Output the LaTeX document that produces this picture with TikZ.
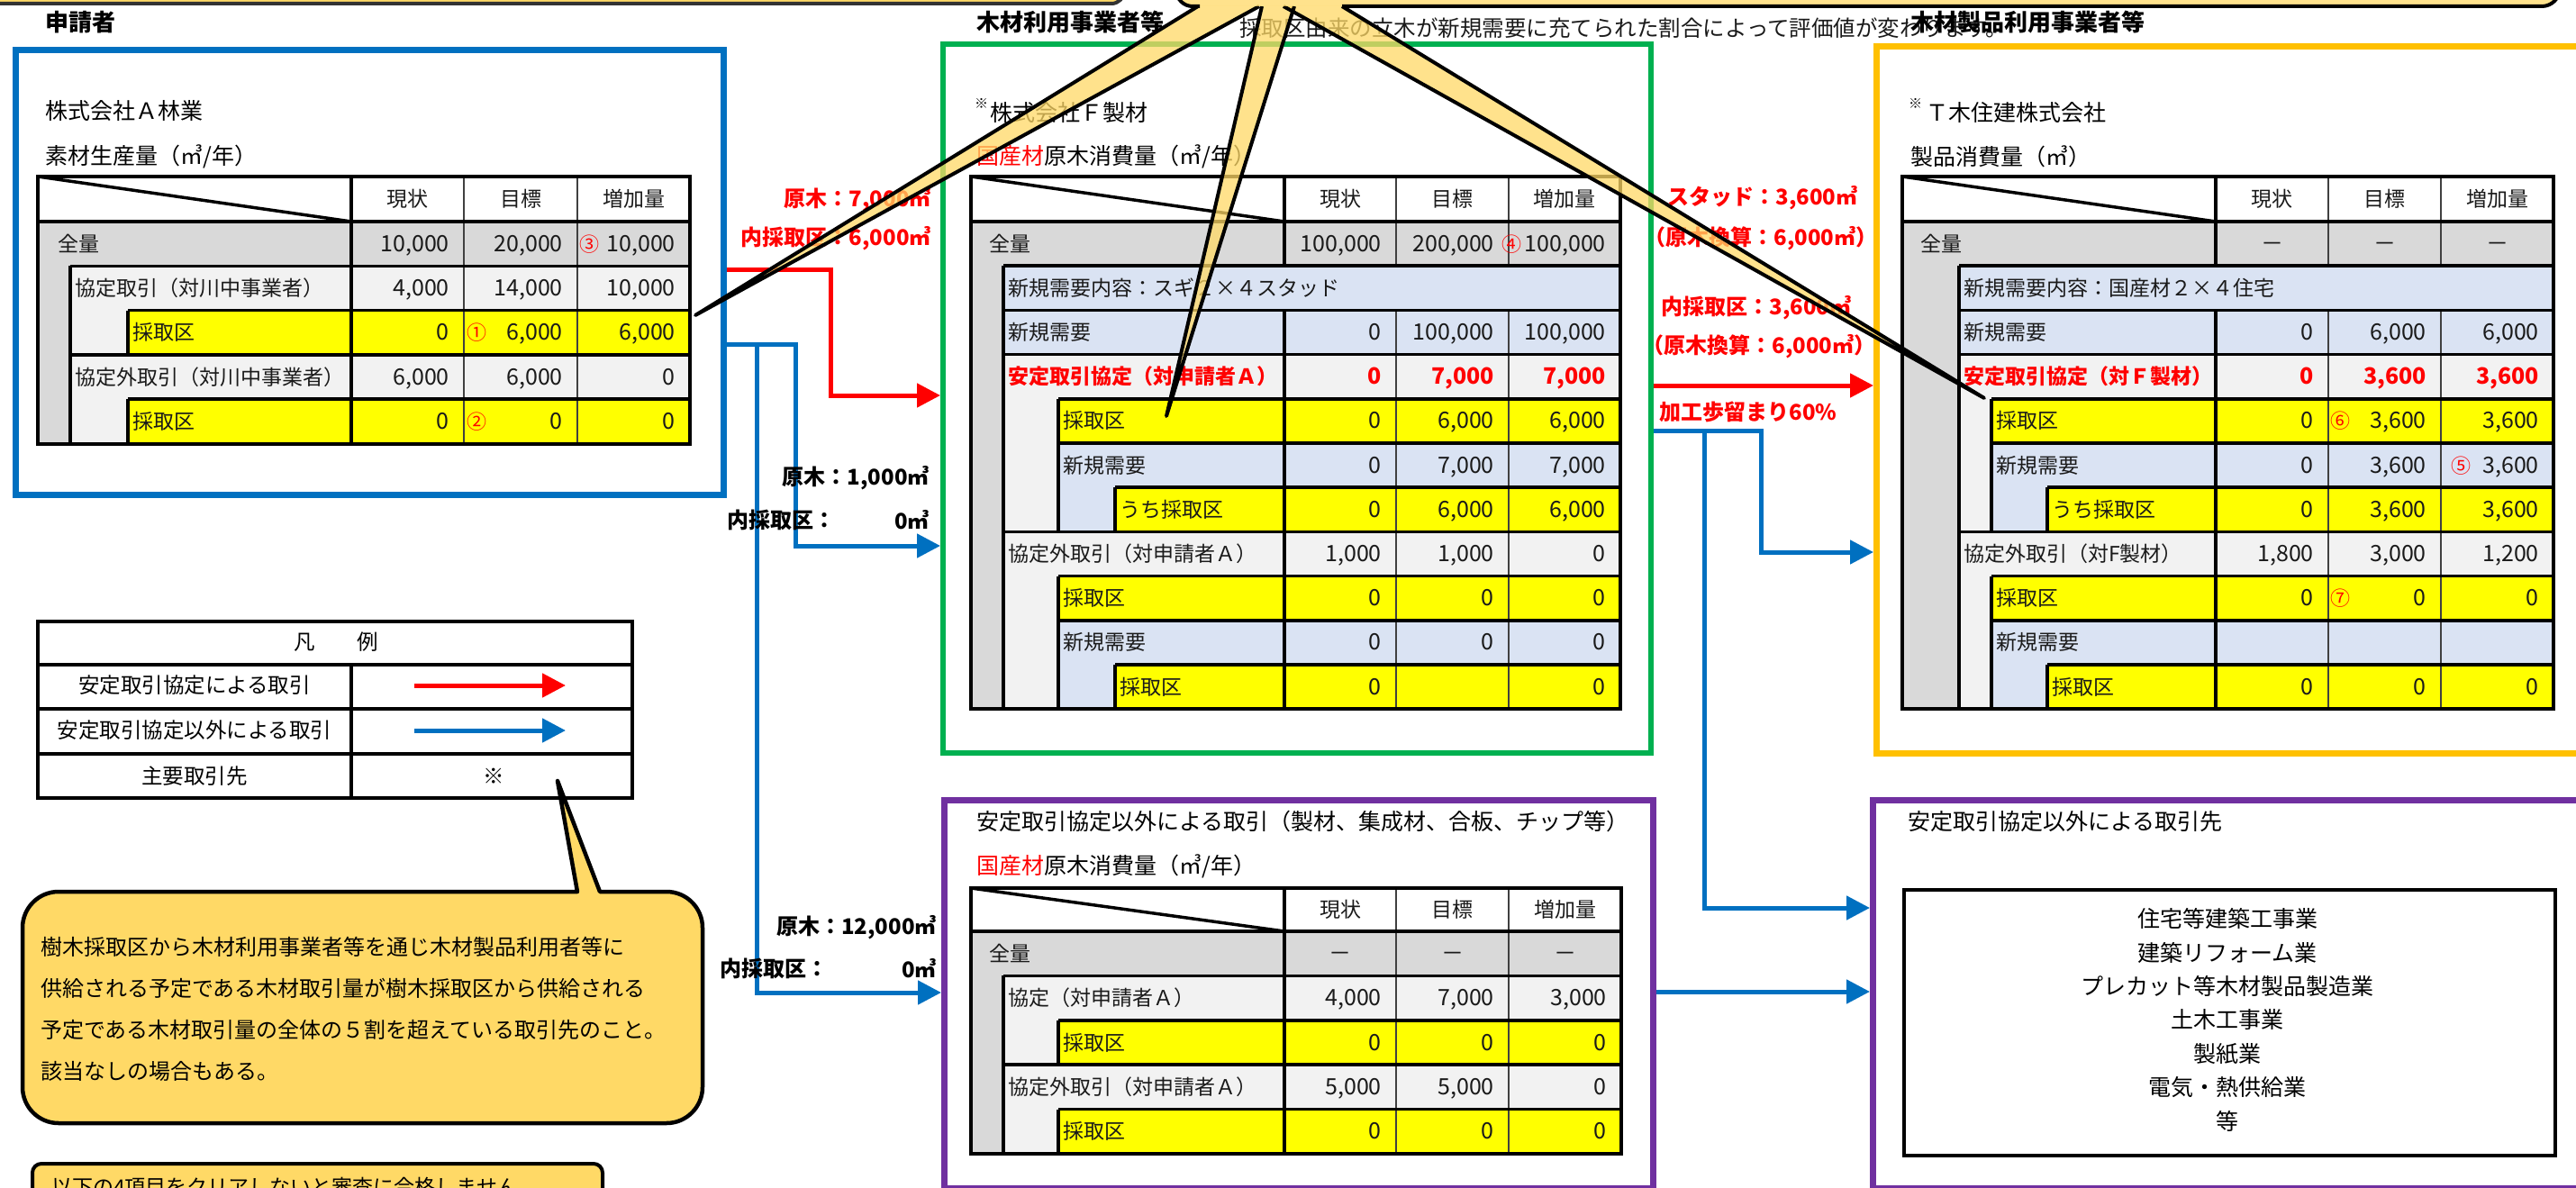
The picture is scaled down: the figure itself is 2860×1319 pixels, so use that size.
\documentclass[tikz,border=0pt]{standalone}
\usepackage{fontspec}
\setmainfont{Noto Sans CJK JP}
\usetikzlibrary{arrows.meta}
\definecolor{cblue}{HTML}{0070C0}
\definecolor{cred}{HTML}{FF0000}
\definecolor{cgreen}{HTML}{00B050}
\definecolor{corange}{HTML}{FFC000}
\definecolor{cpurple}{HTML}{7030A0}
\definecolor{cgray}{HTML}{D9D9D9}
\definecolor{clg}{HTML}{F2F2F2}
\definecolor{clb}{HTML}{DAE3F3}
\definecolor{yel}{HTML}{FFFF00}
\definecolor{ccall}{HTML}{FFD966}
\definecolor{txt}{HTML}{1A1A1A}
\newcommand\fsz[1]{\fontsize{#1}{#1}\selectfont}
\newcount\cellno
\newcommand\nextcell{\global\advance\cellno by 1\relax}
\newcommand\tabset[5]{\def\tL{#1}\def\tA{#2}\def\tB{#3}\def\tC{#4}\def\tR{#5}}
\newcommand\thead[2]{%
  \nextcell
  \fill[white] (\tL,#1) rectangle (\tR,#2);
  \draw[tthick] (\tL,#1) -- (\tA,#2);
  \draw[tthick] (\tA,#1) -- (\tA,#2);
  \draw[tthin] (\tB,#1) -- (\tB,#2) (\tC,#1) -- (\tC,#2);
  \node[tlab] (h\the\cellno a) at ({(\tA+\tB)/2},{(#1+#2)/2}) {現状};
  \node[tlab] (h\the\cellno b) at ({(\tB+\tC)/2},{(#1+#2)/2}) {目標};
  \node[tlab] (h\the\cellno c) at ({(\tC+\tR)/2},{(#1+#2)/2}) {増加量};
}
\newcommand\tgrp[4]{\fill[#4] (#3,#1) rectangle (\tR,#2); \draw[tthick] (#3,#1) -- (#3,#2);}
\newcommand\trow[9]{%
  \nextcell
  \fill[#4] (#3,#1) rectangle (\tR,#2);
  \draw[tthin] (\tB,#1) -- (\tB,#2) (\tC,#1) -- (\tC,#2);
  \draw[tthick] (#3,#1) -- (\tR,#1) (#3,#1) -- (#3,#2) (\tA,#1) -- (\tA,#2);
  \node[tlab,anchor=west,#9] (r\the\cellno l) at ({#3+5},{(#1+#2)/2}) {#5};
  \node[tnum,anchor=east,#9] (r\the\cellno a) at ({\tB-16},{(#1+#2)/2}) {#6};
  \node[tnum,anchor=east,#9] (r\the\cellno b) at ({\tC-16},{(#1+#2)/2}) {#7};
  \node[tnum,anchor=east,#9] (r\the\cellno c) at ({\tR-16},{(#1+#2)/2}) {#8};
}
\newcommand\tmrow[5]{%
  \nextcell
  \fill[#4] (#3,#1) rectangle (\tR,#2);
  \draw[tthick] (#3,#1) -- (\tR,#1) (#3,#1) -- (#3,#2);
  \node[tlab,anchor=west] (m\the\cellno) at ({#3+5},{(#1+#2)/2}) {#5};
}
\newcommand\tdash[2]{%
  \nextcell
  \node[tnum] (d\the\cellno a) at ({(\tA+\tB)/2},{(#1+#2)/2}) {－};
  \node[tnum] (d\the\cellno b) at ({(\tB+\tC)/2},{(#1+#2)/2}) {－};
  \node[tnum] (d\the\cellno c) at ({(\tC+\tR)/2},{(#1+#2)/2}) {－};
}
\newcommand\tframe[2]{\draw[tbord] (\tL,#1) rectangle (\tR,#2);}
\newcommand\cnum[3]{\nextcell\node[cnumst] (c\the\cellno) at (#1,#2) {#3};}
\tikzset{
  tthick/.style={line width=3.5pt, black},
  tthin/.style={line width=1.3pt, black!75},
  tbord/.style={line width=4pt, black},
  tlab/.style={font=\fsz{23}, text=txt, inner sep=0pt, text height=20pt, text depth=3pt},
  tnum/.style={font=\fsz{25}, text=txt, inner sep=0pt, text height=20pt, text depth=3pt},
  tred/.style={text=cred, execute at begin node=\bfseries},
  cnumst/.style={font=\fsz{22}, text=cred, inner sep=0pt, anchor=west, text height=20pt, text depth=3pt},
  ttl/.style={font=\fsz{25}, text=black, inner sep=0pt, anchor=west},
  hdr/.style={font=\bfseries\fsz{26}, text=black, inner sep=0pt, anchor=west},
  lbl/.style={font=\bfseries\fsz{24}, inner sep=0pt},
  box/.style={anchor=north west, inner sep=0pt, line width=7pt},
  redl/.style={cred, line width=5pt, -{Triangle[length=26pt,width=26pt]}},
  bluel/.style={cblue, line width=5pt, -{Triangle[length=26pt,width=26pt]}},
  wedge/.style={fill=ccall, fill opacity=0.75},
  wline/.style={line width=4pt, line join=round, black},
  legt/.style={font=\fsz{23.5}, inner sep=0pt},
  callt/.style={font=\fsz{24}, inner sep=0pt, anchor=west},
  listt/.style={font=\fsz{25}, inner sep=0pt},
}
\begin{document}
\begin{tikzpicture}[x=1pt,y=-1pt]
\useasboundingbox (0,0) rectangle (2860,1319);
\clip (0,0) rectangle (2860,1319);
\fill[white] (0,0) rectangle (2860,1319);

% ---- section headers
\node[hdr] (hA) at (50,25) {申請者};
\node[hdr] (hF) at (1084,25) {木材利用事業者等};
\node[font=\fsz{24.5}, inner sep=0pt, anchor=west, text=txt] (note) at (1376,31) {採取区由来の立木が新規需要に充てられた割合によって評価値が変わります。};
\node[hdr] (hT) at (2121,25) {木材製品利用事業者等};

% ---- boxes
\node[box, draw=cblue, minimum width=786pt, minimum height=494pt] (boxA) at (14,52) {};
\node[box, draw=cgreen, line width=6pt, minimum width=786pt, minimum height=787pt] (boxF) at (1044,46) {};
\node[box, draw=corange, minimum width=800pt, minimum height=785pt] (boxT) at (2080,48) {};
\node[box, draw=cpurple, minimum width=787pt, minimum height=431pt] (boxP) at (1045,885) {};
\node[box, draw=cpurple, minimum width=800pt, minimum height=431pt] (boxQ) at (2076,885) {};

% ---- box titles
\node[ttl] (tA1) at (50,123) {株式会社Ａ林業};
\node[ttl] (tA2) at (50,174) {素材生産量（㎥/年）};
\node[font=\fsz{15}, inner sep=0pt, anchor=west] (tF0) at (1082,115) {※};
\node[ttl] (tF1) at (1099,125) {株式会社Ｆ製材};
\node[ttl] (tF2) at (1084,174) {\textcolor{cred}{国産材}原木消費量（㎥/年）};
\node[font=\fsz{15}, inner sep=0pt, anchor=west] (tT0) at (2119,115) {※};
\node[ttl] (tT1) at (2138,125) {Ｔ木住建株式会社};
\node[ttl] (tT2) at (2121,174) {製品消費量（㎥）};
\node[ttl] (tP1) at (1084,912) {安定取引協定以外による取引（製材、集成材、合板、チップ等）};
\node[ttl] (tP2) at (1084,962) {\textcolor{cred}{国産材}原木消費量（㎥/年）};
\node[ttl] (tQ1) at (2118,912) {安定取引協定以外による取引先};

% ---- table A
\tabset{42}{390}{515}{641}{766}
\thead{196}{246}
\tgrp{246}{492.5}{42}{cgray}
\tgrp{295.3}{393.9}{78}{clg}
\tgrp{393.9}{492.5}{78}{clg}
\trow{246}{295.3}{42}{cgray}{\hspace{17pt}全量}{10,000}{20,000}{10,000}{}
\trow{295.3}{344.6}{78}{clg}{協定取引（対川中事業者）}{4,000}{14,000}{10,000}{}
\trow{344.6}{393.9}{142}{yel}{採取区}{0}{6,000}{6,000}{}
\trow{393.9}{443.2}{78}{clg}{協定外取引（対川中事業者）}{6,000}{6,000}{0}{}
\trow{443.2}{492.5}{142}{yel}{採取区}{0}{0}{0}{}
\tframe{196}{492.5}
\cnum{643}{270.6}{③}
\cnum{518}{369.2}{①}
\cnum{518}{467.8}{②}

% ---- table F
\tabset{1078}{1426}{1550}{1675}{1799}
\thead{196}{246}
\tgrp{246}{787.2}{1078}{cgray}
\tgrp{393.6}{590.4}{1114}{clg}
\tgrp{492}{590.4}{1175}{clb}
\tgrp{590.4}{787.2}{1114}{clg}
\tgrp{688.8}{787.2}{1175}{clb}
\trow{246}{295.2}{1078}{cgray}{\hspace{15pt}全量}{100,000}{200,000}{100,000}{}
\tmrow{295.2}{344.4}{1114}{clb}{新規需要内容：スギ２×４スタッド}
\trow{344.4}{393.6}{1114}{clb}{新規需要}{0}{100,000}{100,000}{}
\trow{393.6}{442.8}{1114}{clg}{安定取引協定（対申請者Ａ）}{0}{7,000}{7,000}{tred}
\trow{442.8}{492}{1175}{yel}{採取区}{0}{6,000}{6,000}{}
\trow{492}{541.2}{1175}{clb}{新規需要}{0}{7,000}{7,000}{}
\trow{541.2}{590.4}{1238}{yel}{うち採取区}{0}{6,000}{6,000}{}
\trow{590.4}{639.6}{1114}{clg}{協定外取引（対申請者Ａ）}{1,000}{1,000}{0}{}
\trow{639.6}{688.8}{1175}{yel}{採取区}{0}{0}{0}{}
\trow{688.8}{738}{1175}{clb}{新規需要}{0}{0}{0}{}
\trow{738}{787.2}{1238}{yel}{採取区}{0}{}{0}{}
\tframe{196}{787.2}
\cnum{1667}{270.6}{④}

% ---- table T
\tabset{2112}{2460}{2585}{2710}{2835}
\thead{196}{246}
\tgrp{246}{787.2}{2112}{cgray}
\tgrp{393.6}{590.4}{2175}{clg}
\tgrp{492}{590.4}{2211}{clb}
\tgrp{590.4}{787.2}{2175}{clg}
\tgrp{688.8}{787.2}{2211}{clb}
\trow{246}{295.2}{2112}{cgray}{\hspace{15pt}全量}{}{}{}{}
\tdash{246}{295.2}
\tmrow{295.2}{344.4}{2175}{clb}{新規需要内容：国産材２×４住宅}
\trow{344.4}{393.6}{2175}{clb}{新規需要}{0}{6,000}{6,000}{}
\trow{393.6}{442.8}{2175}{clg}{安定取引協定（対Ｆ製材）}{0}{3,600}{3,600}{tred}
\trow{442.8}{492}{2211}{yel}{採取区}{0}{3,600}{3,600}{}
\trow{492}{541.2}{2211}{clb}{新規需要}{0}{3,600}{3,600}{}
\trow{541.2}{590.4}{2273}{yel}{うち採取区}{0}{3,600}{3,600}{}
\trow{590.4}{639.6}{2175}{clg}{協定外取引（対F製材）}{1,800}{3,000}{1,200}{}
\trow{639.6}{688.8}{2211}{yel}{採取区}{0}{0}{0}{}
\trow{688.8}{738}{2211}{clb}{新規需要}{}{}{}{}
\trow{738}{787.2}{2273}{yel}{採取区}{0}{0}{0}{}
\tframe{196}{787.2}
\cnum{2587}{467.4}{⑥}
\cnum{2721}{516.6}{⑤}
\cnum{2587}{664.2}{⑦}

% ---- table P
\tabset{1078}{1426}{1550}{1675}{1800}
\thead{986}{1034}
\tgrp{1034}{1281}{1078}{cgray}
\tgrp{1083.4}{1182.2}{1114}{clg}
\tgrp{1182.2}{1281}{1114}{clg}
\trow{1034}{1083.4}{1078}{cgray}{\hspace{15pt}全量}{}{}{}{}
\tdash{1034}{1083.4}
\trow{1083.4}{1132.8}{1114}{clg}{協定（対申請者Ａ）}{4,000}{7,000}{3,000}{}
\trow{1132.8}{1182.2}{1175}{yel}{採取区}{0}{0}{0}{}
\trow{1182.2}{1231.6}{1114}{clg}{協定外取引（対申請者Ａ）}{5,000}{5,000}{0}{}
\trow{1231.6}{1281}{1175}{yel}{採取区}{0}{0}{0}{}
\tframe{986}{1281}

% ---- list box
\node[draw, line width=4pt, anchor=north west, minimum width=723pt, minimum height=295pt, inner sep=0pt] (listbox) at (2112,986) {};
\node[listt] (q1) at (2473,1020) {住宅等建築工事業};
\node[listt] (q2) at (2473,1058) {建築リフォーム業};
\node[listt] (q3) at (2473,1095) {プレカット等木材製品製造業};
\node[listt] (q4) at (2473,1132) {土木工事業};
\node[listt] (q5) at (2473,1170) {製紙業};
\node[listt] (q6) at (2473,1207) {電気・熱供給業};
\node[listt] (q7) at (2473,1245) {等};

% ---- connectors A -> F / P
\coordinate (ra) at (922,299);
\coordinate (rb) at (922,439);
\draw[redl] (boxA.east |- 0,299) -- (ra) -- (rb) -- (boxF.west |- rb);
\coordinate (ba) at (883,382);
\coordinate (bb) at (883,606);
\coordinate (bj) at (840,382);
\coordinate (bc) at (840,1102);
\draw[bluel] (boxA.east |- 0,382) -- (ba) -- (bb) -- (boxF.west |- bb);
\draw[bluel] (bj) -- (bc) -- (boxP.west |- bc);

% labels A -> F
\node[lbl, text=cred, anchor=east] (l1) at (1034,222) {原木：7,000㎥};
\node[lbl, text=cred, anchor=east] (l2) at (1034,265) {内採取区：6,000㎥};
\node[lbl, anchor=east] (l3) at (1032,531) {原木：1,000㎥};
\node[lbl, anchor=west] (l4) at (807,577) {内採取区：};
\node[lbl, anchor=east] (l4b) at (1032,577) {0㎥};
\node[lbl, anchor=east] (l5) at (1040,1030) {原木：12,000㎥};
\node[lbl, anchor=west] (l6) at (799,1075) {内採取区：};
\node[lbl, anchor=east] (l6b) at (1040,1075) {0㎥};

% ---- connectors F -> T / Q
\coordinate (fa) at (1955,478);
\coordinate (fb) at (1955,613);
\coordinate (fj) at (1892,478);
\coordinate (fc) at (1892,1008);
\draw[redl] (boxF.east |- 0,428) -- (boxT.west |- 0,428);
\draw[bluel] (boxF.east |- fa) -- (fa) -- (fb) -- (boxT.west |- fb);
\draw[bluel] (fj) -- (fc) -- (boxQ.west |- fc);
\draw[bluel] (boxP.east |- 0,1101) -- (boxQ.west |- 0,1101);

\node[lbl, text=cred] (m1) at (1957,220) {スタッド：3,600㎥};
\node[lbl, text=cred] (m2) at (1955,265) {（原木換算：6,000㎥）};
\node[lbl, text=cred] (m3) at (1950,342) {内採取区：3,600㎥};
\node[lbl, text=cred] (m4) at (1953,385) {（原木換算：6,000㎥）};
\node[lbl, text=cred] (m5) at (1941,457) {加工歩留まり60\%};

% ---- legend
\draw[tbord] (42,690) rectangle (702,886);
\draw[tbord] (42,738) -- (702,738) (42,787) -- (702,787) (42,837) -- (702,837) (390,738) -- (390,886);
\node[legt] (g0) at (373,713) {凡　　例};
\node[legt] (g1) at (216,761) {安定取引協定による取引};
\node[legt] (g2) at (216,811) {安定取引協定以外による取引};
\node[legt] (g3) at (216,862) {主要取引先};
\node[legt] (g4) at (548,862) {※};
\coordinate (g1a) at (460,761); \coordinate (g1b) at (628,761);
\coordinate (g2a) at (460,811); \coordinate (g2b) at (628,811);
\draw[redl] (g1a) -- (g1b);
\draw[bluel] (g2a) -- (g2b);

% ---- bottom-left callout
\draw[fill=ccall, line width=4.5pt, line join=round] (25,1120) [rounded corners=40] -- (25,990) -- (600,990) [sharp corners] -- (641,990) -- (619,867) -- (666,990) -- (700,990) [rounded corners=40] -- (780,990) -- (780,1247) -- (25,1247) -- cycle;
\node[callt] (k1) at (45,1051) {樹木採取区から木材利用事業者等を通じ木材製品利用者等に};
\node[callt] (k2) at (45,1097) {供給される予定である木材取引量が樹木採取区から供給される};
\node[callt] (k3) at (45,1143) {予定である木材取引量の全体の５割を超えている取引先のこと。};
\node[callt] (k4) at (45,1189) {該当なしの場合もある。};

% ---- bottom box (cut off)
\draw[fill=ccall, line width=4pt, rounded corners=10] (36,1292) rectangle (669,1370);
\node[font=\fsz{23}, inner sep=0pt, anchor=west] (bt) at (57,1318) {以下の4項目をクリアしないと審査に合格しません。};

% ---- top-left box (cut off)
\draw[fill=ccall, draw=black!80, line width=4pt, rounded corners=14] (-30,-60) rectangle (1248,4);

% ---- top callout with wedges
\coordinate (wa1) at (1330,7); \coordinate (wa2) at (1398,7); \coordinate (wat) at (772,350);
\coordinate (wf1) at (1401,7); \coordinate (wf2) at (1437,7); \coordinate (wft) at (1295,462);
\coordinate (wt1) at (1425,7); \coordinate (wt2) at (1490,7); \coordinate (wtt) at (2203,442);
\fill[wedge] (wa1) -- (wat) -- (wa2) -- cycle;
\fill[wedge] (wf1) -- (wft) -- (wf2) -- cycle;
\fill[wedge] (wt1) -- (wtt) -- (wt2) -- cycle;
\draw[wline] (wa1) -- (wat) -- (wa2);
\draw[wline] (wf1) -- (wft) -- (wf2);
\draw[wline] (wt1) -- (wtt) -- (wt2);
\fill[ccall, fill opacity=0.75, rounded corners=20] (1306,-60) rectangle (2842,7);
\draw[wline, rounded corners=20] (1490,7) -- (2842,7) -- (2842,-60);
\draw[wline, rounded corners=18] (1306,-60) -- (1306,7) -- (1332,7);
\end{tikzpicture}
\end{document}
